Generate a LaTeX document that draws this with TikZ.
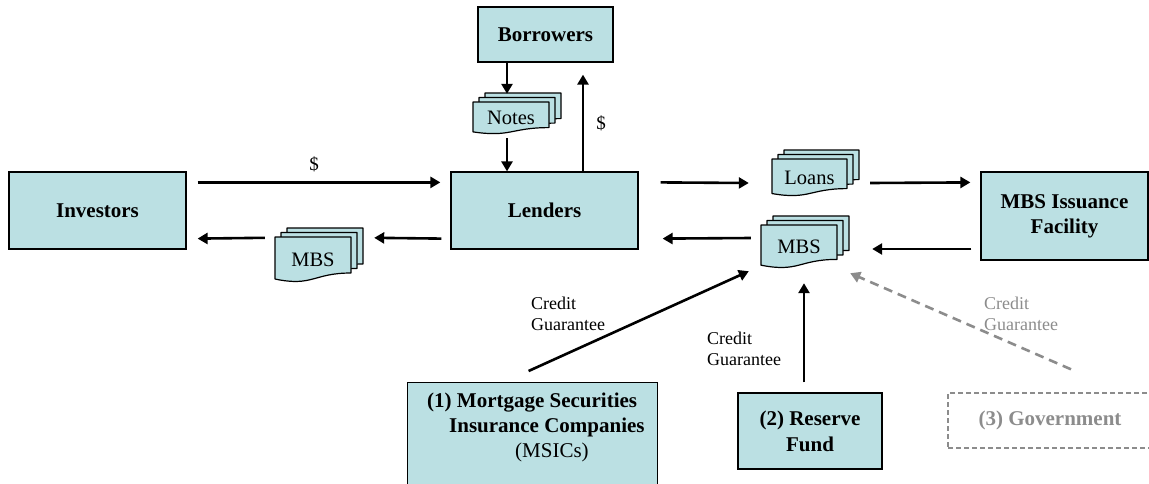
\documentclass[tikz,border=0pt]{standalone}
\usepackage{fontspec}
\setmainfont{Liberation Serif}
\usetikzlibrary{arrows.meta}
\definecolor{boxfill}{RGB}{187,224,227}
\definecolor{govgray}{RGB}{140,140,140}
\tikzset{
  box/.style={draw, line width=1.2pt, fill=boxfill, inner sep=0pt, align=center,
    font=\bfseries\fontsize{21}{25}\selectfont},
  govbox/.style={draw=govgray, dash pattern=on 5pt off 3pt, line width=1.4pt, inner sep=0pt,
    text=govgray, font=\bfseries\fontsize{21}{25}\selectfont},
  boxtext/.style={inner sep=0pt, align=left, font=\bfseries\fontsize{21}{25}\selectfont},
  docpage/.style={draw, line width=1.2pt, fill=boxfill, line join=round},
  doctext/.style={inner sep=0pt, font=\fontsize{20.5}{24}\selectfont},
  flow/.style={line width=2.6pt, -{Triangle[length=10pt,width=11pt]}},
  govflow/.style={flow, govgray, dash pattern=on 9pt off 6pt},
  note/.style={inner sep=0pt, anchor=west, align=left, font=\fontsize{18}{21}\selectfont},
  dollar/.style={inner sep=0pt, font=\fontsize{19}{21}\selectfont}
}
\newcommand\docstack[6]{
  \def\X{#2} \def\Y{#3} \def\W{#4} \def\Hgt{#5}
  \foreach \k in {2,1,0}
  {
    \pgfmathsetmacro{\xa}{\X+6*\k}
    \pgfmathsetmacro{\ya}{\Y-4.5*\k}
    \filldraw[docpage] (\xa,\ya) -- ({\xa+\W},\ya) -- ({\xa+\W},{\ya+0.8*\Hgt})
      .. controls ({\xa+0.5*\W},{\ya+0.8*\Hgt}) and ({\xa+0.5*\W},{\ya+1.11*\Hgt}) .. (\xa,{\ya+0.934*\Hgt}) -- cycle;
  }
  \node[doctext, minimum width=\W, minimum height=\Hgt] (#1) at ({\X+0.5*\W},{\Y+0.5*\Hgt}) {#6};
}
\begin{document}
\begin{tikzpicture}[x=1pt, y=-1pt]
\useasboundingbox (0,0) rectangle (1149,483);

\node[box, minimum width=177, minimum height=77] (inv) at (97.5,210.5) {Investors};
\node[box, minimum width=187, minimum height=77] (lend) at (544.5,210.5) {Lenders};
\node[box, minimum width=135, minimum height=55] (borr) at (545.5,34.5) {Borrowers};
\node[box, minimum width=167, minimum height=88] (fac) at (1064.5,216) {MBS Issuance\\Facility};
\node[box, minimum width=250, minimum height=140, anchor=north west] (msic) at (407,382) {};
\node[boxtext, anchor=north west] (msictext) at (427,393)
  {(1) Mortgage Securities\\ \hspace*{22pt}Insurance Companies\\ \hspace*{88pt}{\mdseries (MSICs)}};
\node[box, minimum width=144, minimum height=76, font=\bfseries\fontsize{21}{26}\selectfont] (res) at (810,431) {(2) Reserve\\Fund};
\node[govbox, minimum width=204, minimum height=55] (gov) at (1050,420.5) {(3) Government};

\docstack{notes}{473}{102}{76}{32}{Notes}
\docstack{loans}{772}{159}{75}{37}{Loans}
\docstack{mbsl}{275}{237}{76}{45}{MBS}
\docstack{mbsr}{761}{225}{76}{43}{MBS}

\draw[flow] ([xshift=11pt,yshift=-11pt]inv.north east) --
  node[dollar, above=9pt, pos=0.48] (d1) {\$} ([xshift=-10pt,yshift=-11pt]lend.north west);
\draw[flow] ([xshift=-9pt,yshift=11pt]lend.south west) -- ([xshift=23pt,yshift=-1pt]mbsl.north east);
\draw[flow] ([xshift=-10pt,yshift=-1pt]mbsl.north west) -- ([xshift=11pt,yshift=11pt]inv.south east);

\draw[flow] ([xshift=-38.5pt]borr.south) -- ([xshift=-4pt,yshift=8pt]notes.north);
\draw[flow] ([xshift=-4pt,yshift=-4pt]notes.south) -- ([xshift=-37.5pt]lend.north);
\draw[flow] ([xshift=38.5pt]lend.north) --
  node[dollar, right=12pt] (d2) {\$} ([xshift=37.5pt,yshift=-12pt]borr.south);

\draw[flow] ([xshift=22pt,yshift=-11pt]lend.north east) -- ([xshift=-23pt,yshift=-5.5pt]loans.west);
\draw[flow] ([xshift=23pt,yshift=-5.5pt]loans.east) -- ([xshift=-10pt,yshift=-11pt]fac.north west);
\draw[flow] ([xshift=-9pt,yshift=-33pt]fac.west) -- ([xshift=35pt,yshift=-2.5pt]mbsr.east);
\draw[flow] ([xshift=-10pt,yshift=8.5pt]mbsr.west) -- ([xshift=24pt,yshift=11pt]lend.south east);

\draw[flow] ([xshift=-4pt,yshift=11pt]msic.north) -- ([xshift=-12pt,yshift=-3pt]mbsr.south west);
\draw[flow] ([xshift=-6pt,yshift=10pt]res.north) -- ([xshift=5pt,yshift=-15pt]mbsr.south);
\draw[govflow] ([xshift=21pt,yshift=23pt]gov.north) -- ([xshift=13pt,yshift=-5pt]mbsr.south east);

\node[note] (cg1) at (531,314) {Credit\\Guarantee};
\node[note] (cg2) at (707,349) {Credit\\Guarantee};
\node[note, text=govgray] (cg3) at (984,314) {Credit\\Guarantee};
\end{tikzpicture}
\end{document}
